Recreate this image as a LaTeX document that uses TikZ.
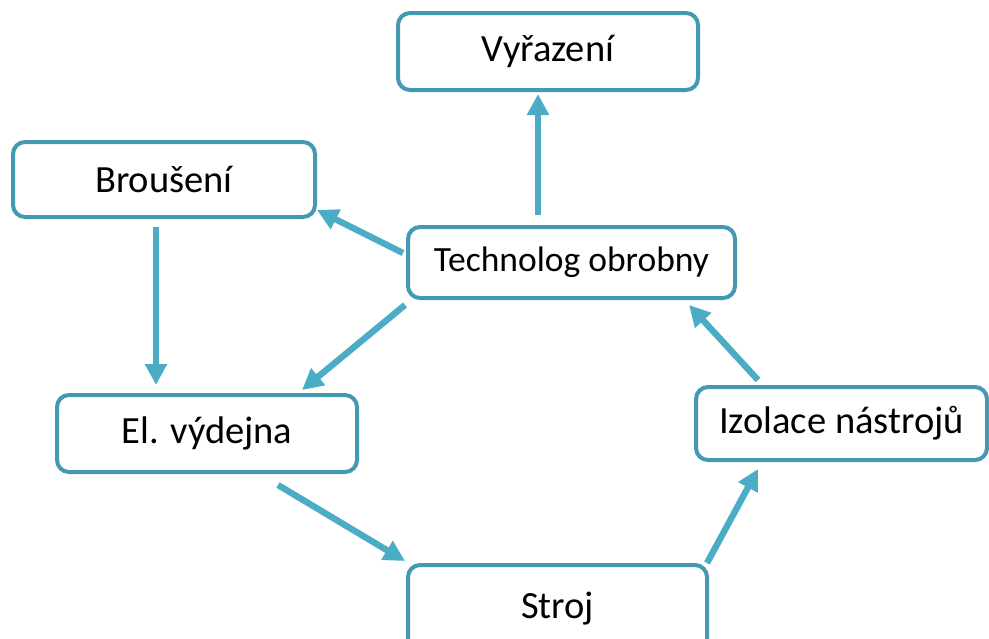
\documentclass[tikz,border=0pt]{standalone}
\usepackage{fontspec}
\setmainfont{Carlito}
\usepackage{tikz}
\usetikzlibrary{arrows.meta,calc}
\definecolor{clBorder}{HTML}{4499B2}
\definecolor{clArrow}{HTML}{4BACC6}
\tikzset{
  box/.style={rectangle, rounded corners=6pt, draw=clBorder, line width=2pt,
              fill=white, align=center, inner sep=0pt, text=black,
              font=\fontsize{19.25}{23}\selectfont},
  flow/.style={-{Triangle[length=10.5pt,width=10.5pt]}, line width=3.2pt, draw=clArrow},
}

\begin{document}
\begin{tikzpicture}[x=0.5pt, y=-0.5pt]
  \useasboundingbox (0,0) rectangle (989,638);
  \node[box, minimum width=150pt, minimum height=38.5pt] (vyr) at (548,51.5) {Vyřazení};
  \node[box, minimum width=151pt, minimum height=37.5pt] (brou) at (164,179.5) {Broušení};
  \node[box, minimum width=163.5pt, minimum height=35.5pt,
        font=\fontsize{17.75}{21}\selectfont] (tech) at (571.5,262.5) {Technolog obrobny};
  \node[box, minimum width=150pt, minimum height=38.5pt] (eld) at (207,433.5) {El. výdejna};
  \node[box, minimum width=145.5pt, minimum height=36.5pt] (izo) at (841.5,423.5) {Izolace nástrojů};
  \node[box, minimum width=149.5pt, minimum height=46pt] (stroj) at (557.5,611) {\raisebox{6pt}{Stroj}};
  % connectors
  \draw[flow] ($(tech.north)+(-33.5,-10)$) -- ($(vyr.south)+(-10,2)$);
  \draw[flow] ($(tech.west)+(-3,-9.5)$) -- ($(brou.south east)+(0,-9)$);
  \draw[flow] ($(brou.south)+(-8,8)$) -- ($(eld.north)+(-51,-8)$);
  \draw[flow] ($(tech.south west)+(-1,5)$) -- ($(eld.north east)+(-57,-3)$);
  \draw[flow] ($(eld.south)+(71,11)$) -- ($(stroj.north west)+(-1,-2)$);
  \draw[flow] ($(stroj.north east)+(-2,0)$) -- ($(izo.south west)+(64,7)$);
  \draw[flow] ($(izo.north west)+(64,-5)$) -- ($(tech.south east)+(-48,5)$);
\end{tikzpicture}
\end{document}
